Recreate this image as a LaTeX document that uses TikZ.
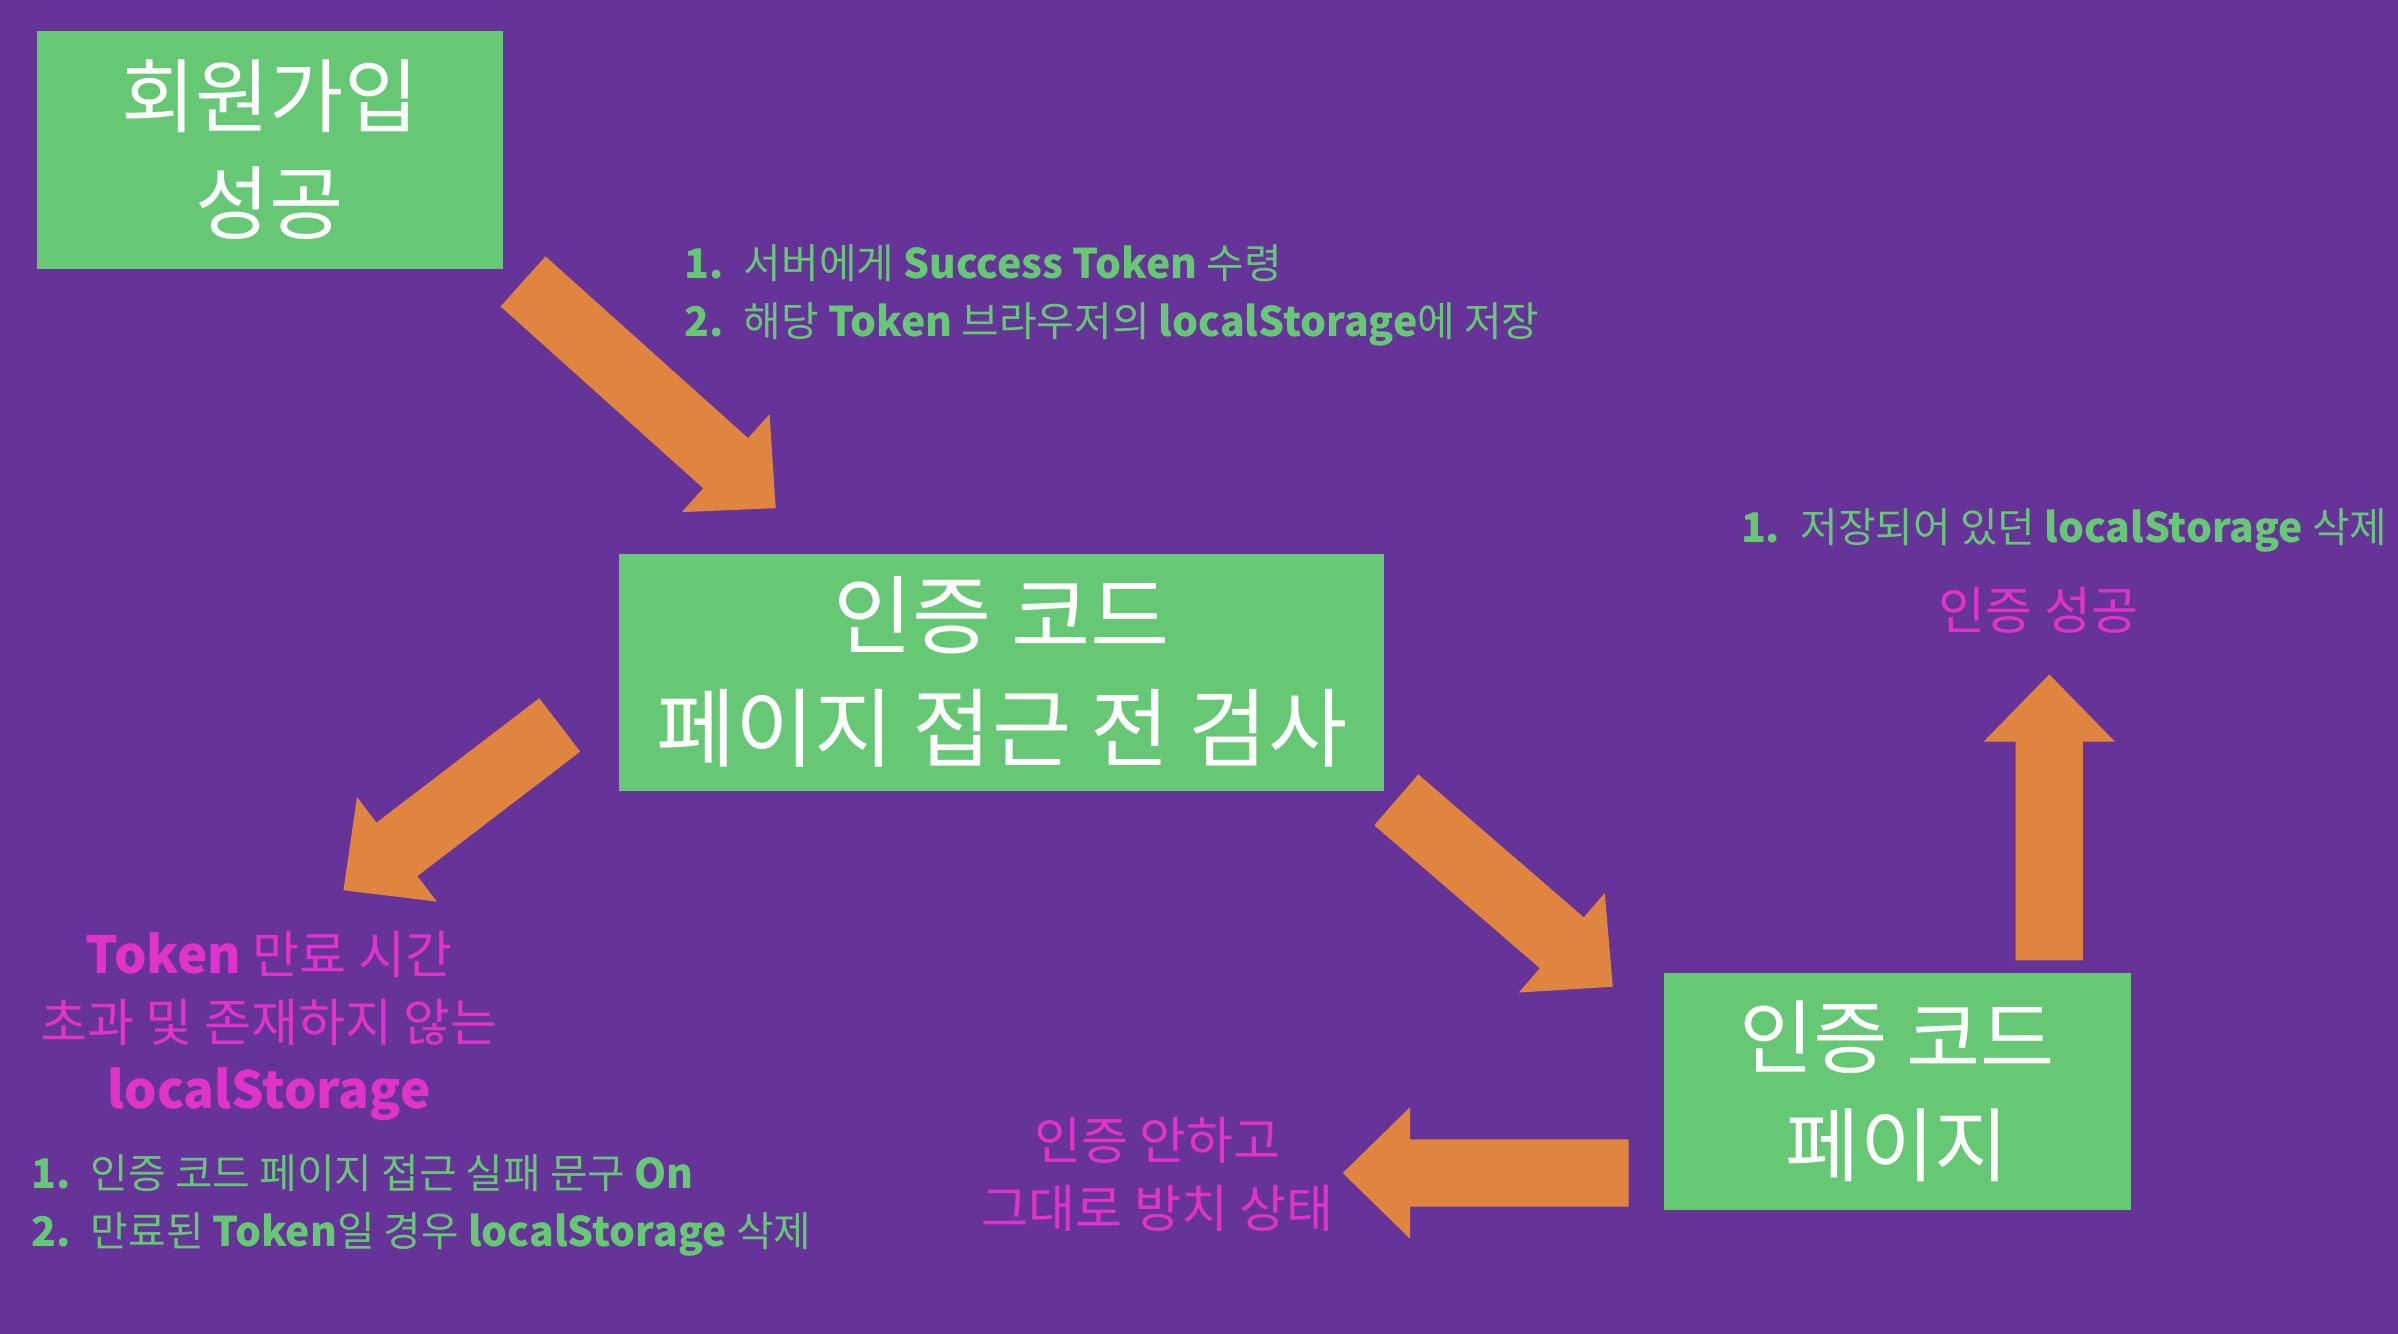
\documentclass[tikz,border=0pt]{standalone}
\usepackage{fontspec}
\setmainfont{Noto Sans CJK KR}
\definecolor{bg}{HTML}{663399}
\definecolor{gr}{HTML}{66C875}
\definecolor{og}{HTML}{E08540}
\definecolor{mg}{HTML}{E033C8}
\tikzset{box/.style={fill=gr,text=white,align=center,font=\fontsize{15}{20}\selectfont},
 sm/.style={text=gr,align=left,anchor=west,font=\fontsize{7.6}{10.8}\selectfont},
 mgt/.style={text=mg,align=center,font=\fontsize{9.5}{12.6}\selectfont}}
\newcommand{\fatarrow}[3]{% shift, angle, length
 \begin{scope}[shift={#1},rotate=#2]
 \fill[og] (0,-22)--(#3-44,-22)--(#3-44,-43)--(#3,0)--(#3-44,43)--(#3-44,22)--(0,22)--cycle;
 \end{scope}}
\begin{document}
\begin{tikzpicture}[x=0.01cm,y=-0.01cm]
\fill[bg] (0,0) rectangle (1568,872);
\useasboundingbox (0,0) rectangle (1568,872);
\node[box,minimum width=305\pgflinewidth*0+3.05cm,minimum height=1.56cm] (b1) at (176.5,98) {회원가입\\성공};
\node[box,minimum width=5cm,minimum height=1.55cm,font=\fontsize{16}{21}\selectfont] (b2) at (655,439.5) {인증 코드\\페이지 접근 전 검사};
\node[box,minimum width=3.05cm,minimum height=1.55cm] (b3) at (1240.5,713.5) {인증 코드\\페이지};
\fatarrow{(342,184)}{-41.9}{222}
\fatarrow{(366,474)}{-142.6}{178}
\fatarrow{(913,523)}{-40.8}{187}
\fatarrow{(1340,628)}{90}{187}
\fatarrow{(1065,767)}{180}{187}
\node[sm] (t1) at (435,193) {\textbf{1.}\enspace 서버에게 \textbf{Success Token} 수령\\\textbf{2.}\enspace 해당 \textbf{Token} 브라우저의 \textbf{localStorage}에 저장};
\node[sm] (t2) at (1126,347) {\textbf{1.}\enspace 저장되어 있던 \textbf{localStorage} 삭제};
\node[mgt] (m1) at (1333,399) {인증 성공};
\node[mgt] (m2) at (176,671) {\textbf{Token} 만료 시간\\초과 및 존재하지 않는\\\textbf{localStorage}};
\node[sm] (t3) at (8,788) {\textbf{1.}\enspace 인증 코드 페이지 접근 실패 문구 \textbf{On}\\\textbf{2.}\enspace 만료된 \textbf{Token}일 경우 \textbf{localStorage} 삭제};
\node[mgt] (m3) at (757,768) {인증 안하고\\그대로 방치 상태};
\end{tikzpicture}
\end{document}
